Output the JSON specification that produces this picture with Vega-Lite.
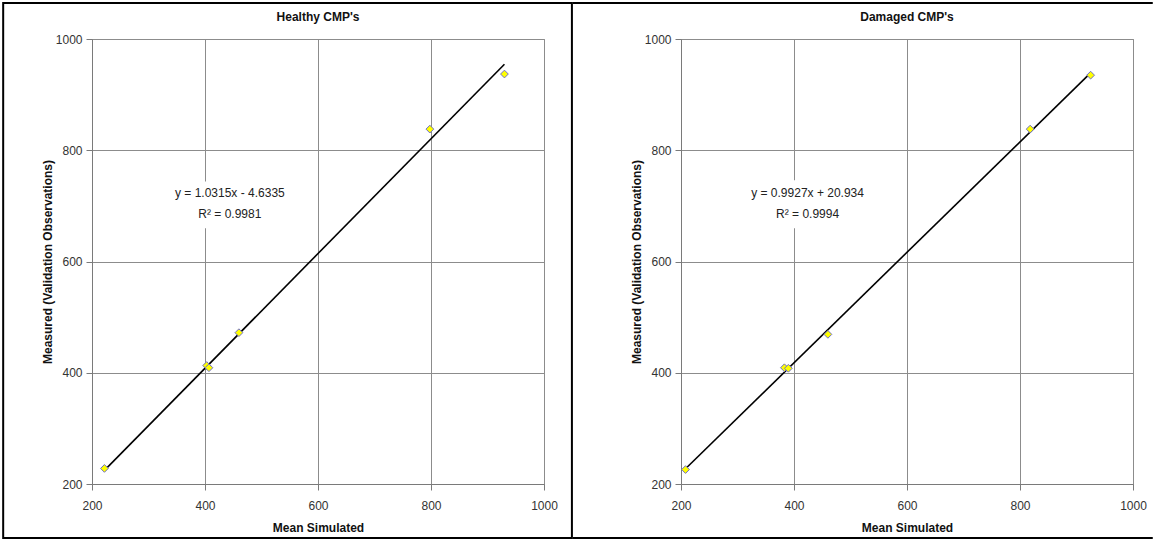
{
  "$schema": "https://vega.github.io/schema/vega-lite/v6.json",
  "background": "white",
  "padding": {"left": 1, "top": 1, "right": 0, "bottom": 0},
  "spacing": -3,
  "datasets": {
    "healthy": [
      {"simulated": 222, "measured": 228},
      {"simulated": 403, "measured": 413},
      {"simulated": 407, "measured": 409},
      {"simulated": 460, "measured": 472},
      {"simulated": 798, "measured": 838},
      {"simulated": 930, "measured": 937}
    ],
    "healthyTrend": [
      {"simulated": 222, "measured": 224.4},
      {"simulated": 930, "measured": 954.7}
    ],
    "damaged": [
      {"simulated": 208, "measured": 226},
      {"simulated": 383, "measured": 409},
      {"simulated": 390, "measured": 408},
      {"simulated": 460, "measured": 469},
      {"simulated": 818, "measured": 838},
      {"simulated": 925, "measured": 935}
    ],
    "damagedTrend": [
      {"simulated": 208, "measured": 227.4},
      {"simulated": 925, "measured": 939.2}
    ],
    "one": [{"n": 1}]
  },
  "config": {
    "font": "Liberation Sans",
    "view": {"stroke": "#8c8c8c", "strokeWidth": 1},
    "axis": {
      "grid": true,
      "gridColor": "#8c8c8c",
      "gridOpacity": 1,
      "gridWidth": 1,
      "domainColor": "#7a7a7a",
      "tickColor": "#7a7a7a",
      "tickSize": 6,
      "format": "d",
      "labelFlush": false,
      "labelFont": "Liberation Sans",
      "labelFontSize": 12,
      "labelColor": "#333333",
      "titleFont": "Liberation Sans",
      "titleFontSize": 12,
      "titleFontWeight": "bold",
      "titleColor": "#111111"
    },
    "axisX": {"labelPadding": 10, "titlePadding": 11},
    "axisY": {"labelPadding": 4, "titlePadding": 1}
  },
  "hconcat": [
    {
      "width": 452,
      "height": 445,
      "layer": [
        {
          "data": {"name": "healthyTrend"},
          "mark": {"type": "line", "color": "black", "strokeWidth": 1.6},
          "encoding": {
            "x": {"field": "simulated", "type": "quantitative", "title": "Mean Simulated",
                  "scale": {"domain": [200, 1000], "nice": false, "zero": false},
                  "axis": {"values": [200, 400, 600, 800, 1000], "format": "d", "labelFlush": false}},
            "y": {"field": "measured", "type": "quantitative", "title": "Measured (Validation Observations)",
                  "scale": {"domain": [200, 1000], "nice": false, "zero": false},
                  "axis": {"values": [200, 400, 600, 800, 1000], "format": "d", "labelFlush": false}}
          }
        },
        {
          "data": {"name": "one"},
          "mark": {"type": "rect", "fill": "white"},
          "encoding": {
            "x": {"datum": 329}, "x2": {"datum": 559},
            "y": {"datum": 744}, "y2": {"datum": 660}
          }
        },
        {
          "data": {"name": "healthy"},
          "mark": {"type": "point", "shape": "diamond", "filled": true, "fill": "#ffff00", "stroke": "#6f6fc8", "strokeWidth": 1, "size": 60, "opacity": 1},
          "encoding": {
            "x": {"field": "simulated", "type": "quantitative"},
            "y": {"field": "measured", "type": "quantitative"}
          }
        },
        {
          "data": {"name": "one"},
          "mark": {"type": "text", "text": "y = 1.0315x - 4.6335", "fontSize": 12, "color": "#222222", "font": "Liberation Sans"},
          "encoding": {"x": {"datum": 444}, "y": {"datum": 723}}
        },
        {
          "data": {"name": "one"},
          "mark": {"type": "text", "text": "R² = 0.9981", "fontSize": 12, "color": "#222222", "font": "Liberation Sans"},
          "encoding": {"x": {"datum": 444}, "y": {"datum": 685}}
        },
        {
          "data": {"name": "one"},
          "mark": {"type": "text", "text": "Healthy CMP's", "fontSize": 12, "fontWeight": "bold", "color": "#111111", "font": "Liberation Sans", "clip": false},
          "encoding": {"x": {"datum": 600}, "y": {"datum": 1040}}
        },
        {
          "data": {"name": "one"},
          "mark": {"type": "rect", "fill": null, "stroke": "black", "strokeWidth": 2, "clip": false},
          "encoding": {
            "x": {"datum": 42.8}, "x2": {"datum": 1049.4},
            "y": {"datum": 1064.6}, "y2": {"datum": 103.1}
          }
        }
      ]
    },
    {
      "width": 452,
      "height": 445,
      "layer": [
        {
          "data": {"name": "damagedTrend"},
          "mark": {"type": "line", "color": "black", "strokeWidth": 1.6},
          "encoding": {
            "x": {"field": "simulated", "type": "quantitative", "title": "Mean Simulated",
                  "scale": {"domain": [200, 1000], "nice": false, "zero": false},
                  "axis": {"values": [200, 400, 600, 800, 1000], "format": "d", "labelFlush": false}},
            "y": {"field": "measured", "type": "quantitative", "title": "Measured (Validation Observations)",
                  "scale": {"domain": [200, 1000], "nice": false, "zero": false},
                  "axis": {"values": [200, 400, 600, 800, 1000], "format": "d", "labelFlush": false}}
          }
        },
        {
          "data": {"name": "one"},
          "mark": {"type": "rect", "fill": "white"},
          "encoding": {
            "x": {"datum": 308}, "x2": {"datum": 541},
            "y": {"datum": 746}, "y2": {"datum": 660}
          }
        },
        {
          "data": {"name": "damaged"},
          "mark": {"type": "point", "shape": "diamond", "filled": true, "fill": "#ffff00", "stroke": "#6f6fc8", "strokeWidth": 1, "size": 60, "opacity": 1},
          "encoding": {
            "x": {"field": "simulated", "type": "quantitative"},
            "y": {"field": "measured", "type": "quantitative"}
          }
        },
        {
          "data": {"name": "one"},
          "mark": {"type": "text", "text": "y = 0.9927x + 20.934", "fontSize": 12, "color": "#222222", "font": "Liberation Sans"},
          "encoding": {"x": {"datum": 424}, "y": {"datum": 723}}
        },
        {
          "data": {"name": "one"},
          "mark": {"type": "text", "text": "R² = 0.9994", "fontSize": 12, "color": "#222222", "font": "Liberation Sans"},
          "encoding": {"x": {"datum": 424}, "y": {"datum": 685}}
        },
        {
          "data": {"name": "one"},
          "mark": {"type": "text", "text": "Damaged CMP's", "fontSize": 12, "fontWeight": "bold", "color": "#111111", "font": "Liberation Sans", "clip": false},
          "encoding": {"x": {"datum": 600}, "y": {"datum": 1040}}
        },
        {
          "data": {"name": "one"},
          "mark": {"type": "rule", "stroke": "black", "strokeWidth": 2, "clip": false},
          "encoding": {"x": {"datum": 8.8}, "x2": {"datum": 1035}, "y": {"datum": 1064.6}}
        },
        {
          "data": {"name": "one"},
          "mark": {"type": "rule", "stroke": "black", "strokeWidth": 2, "clip": false},
          "encoding": {"x": {"datum": 8.8}, "x2": {"datum": 1035}, "y": {"datum": 103.1}}
        }
      ]
    }
  ]
}
